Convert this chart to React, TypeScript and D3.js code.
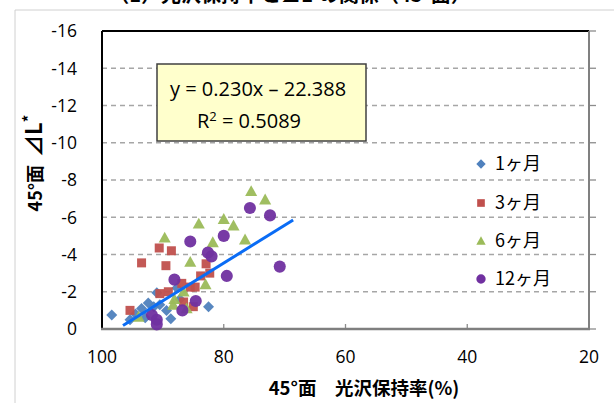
import React from "react";
import * as d3 from "d3";

const xTicks = [100, 80, 60, 40, 20];
const yTicks = [0, -2, -4, -6, -8, -10, -12, -14, -16];

const seriesNames = ["1ヶ月", "3ヶ月", "6ヶ月", "12ヶ月"];
const seriesColors = ["#4F81BD", "#C0504D", "#9BBB59", "#7030A0"];
const seriesShapes = ["diamond", "square", "triangle", "circle"];

const m1x = [98.4, 95.4, 94.5, 93.5, 92.9, 92.4, 91.5, 91.0, 90.5, 89.4, 88.7, 87.7, 87.2, 82.5];
const m1y = [-0.75, -0.5, -0.8, -1.1, -0.6, -1.4, -1.2, -1.95, -1.3, -1.0, -0.55, -2.2, -1.6, -1.2];

const m3x = [95.4, 93.5, 90.6, 89.5, 88.6, 90.5, 89.1, 86.9, 86.6, 85.5, 84.7, 85.0, 83.8, 82.9, 82.3];
const m3y = [-1.0, -3.55, -4.35, -3.4, -4.2, -1.9, -2.0, -2.45, -1.45, -2.25, -2.25, -1.2, -2.85, -3.5, -3.0];

const m6x = [75.5, 73.2, 80.0, 78.4, 84.1, 89.7, 81.8, 76.5, 85.5, 83.0, 86.6, 88.1, 88.3, 86.1, 94.0];
const m6y = [-7.4, -6.95, -5.9, -5.55, -5.65, -4.9, -4.65, -4.8, -3.6, -2.4, -2.0, -1.6, -1.3, -1.1, -0.65];

const m12x = [75.7, 72.4, 80.0, 85.5, 82.6, 82.0, 70.8, 79.5, 88.1, 84.6, 86.8, 91.8, 91.0, 91.0];
const m12y = [-6.5, -6.1, -5.0, -4.7, -4.1, -3.9, -3.35, -2.85, -2.65, -1.5, -1.0, -0.75, -0.5, -0.25];

const trendX = [96.55, 68.6];
const trendY = [-0.19, -5.85];

const equationText = "y = 0.230x – 22.388";
const r2Value = "0.5089";
const titleText = "（1）光沢保持率と⊿L*の関係（45°面）";
const xTitle = "45°面\u3000光沢保持率(%)";

const seriesX = [m1x, m3x, m6x, m12x];
const seriesY = [m1y, m3y, m6y, m12y];

const FONT = "'Open Sans', 'Noto Sans CJK JP', sans-serif";
const CJK = "'Noto Sans CJK JP', 'Open Sans', sans-serif";

function markerPath(shape: string, cx: number, cy: number, s: number): string {
  if (shape === "diamond") {
    const r = s * 0.55;
    return `M${cx},${cy - r}L${cx + r},${cy}L${cx},${cy + r}L${cx - r},${cy}Z`;
  }
  if (shape === "square") {
    const h = s * 0.45;
    return `M${cx - h},${cy - h}H${cx + h}V${cy + h}H${cx - h}Z`;
  }
  if (shape === "triangle") {
    const h = s * 0.55;
    return `M${cx},${cy - h * 1.0}L${cx + h},${cy + h * 0.8}L${cx - h},${cy + h * 0.8}Z`;
  }
  const p = d3.path();
  p.arc(cx, cy, s * 0.55, 0, Math.PI * 2);
  return p.toString();
}

export default function App() {
  const L = 102, R = 589, T = 31, B = 329;
  const xs = d3.scaleLinear().domain([100, 20]).range([L, R]);
  const ys = d3.scaleLinear().domain([0, -16]).range([B, T]);
  const line = d3.line<number>().x((d) => xs(trendX[d])).y((d) => ys(trendY[d]));

  const legendY = [164, 203, 241, 279];

  return (
    <div style={{ position: "fixed", left: 0, top: 0 }}>
      <svg width={614} height={403} style={{ display: "block", background: "#fff" }}>
        {/* chart area border */}
        <line x1={15} y1={10} x2={614} y2={10} stroke="#d0d0d0" strokeWidth={1} />
        <line x1={15} y1={10} x2={15} y2={403} stroke="#d0d0d0" strokeWidth={1} />
        {/* title (cut off at top, as in the reference) */}
        <text x={290} y={2} textAnchor="middle" fontFamily={CJK} fontWeight="bold" fontSize={20} fill="#000">
          {titleText}
        </text>

        {/* gridlines */}
        {yTicks.filter((v) => v !== 0 && v !== -16).map((v) => (
          <line key={v} x1={L} x2={R} y1={ys(v)} y2={ys(v)} stroke="#a6a6a6" strokeWidth={1.3} strokeDasharray="5,4" />
        ))}

        {/* right axis ticks */}
        {yTicks.map((v) => (
          <line key={"rt" + v} x1={R} x2={R + 7} y1={ys(v)} y2={ys(v)} stroke="#8c8c8c" strokeWidth={1.3} />
        ))}
        {/* bottom axis ticks inside */}
        {xTicks.map((v) => (
          <line key={"bt" + v} x1={xs(v)} x2={xs(v)} y1={B} y2={B - 5} stroke="#8c8c8c" strokeWidth={1.3} />
        ))}

        {/* plot area border */}
        <line x1={L} x2={R} y1={T} y2={T} stroke="#000" strokeWidth={2} />
        <line x1={L} x2={L} y1={T} y2={B} stroke="#000" strokeWidth={2} />
        <line x1={R} x2={R} y1={T} y2={B} stroke="#808080" strokeWidth={2} />
        <line x1={L - 1} x2={R + 1} y1={B} y2={B} stroke="#7f7f7f" strokeWidth={2.5} />

        {/* y tick labels */}
        {yTicks.map((v) => (
          <text key={"yl" + v} x={77} y={ys(v)} dy="0.36em" textAnchor="end" fontFamily={FONT} fontSize={17.5} fill="#000">
            {v}
          </text>
        ))}
        {/* x tick labels */}
        {xTicks.map((v) => (
          <text key={"xl" + v} x={xs(v)} y={363} textAnchor="middle" fontFamily={FONT} fontSize={17.5} fill="#000">
            {v}
          </text>
        ))}

        {/* axis titles */}
        <text x={364} y={395} textAnchor="middle" fontFamily={CJK} fontWeight="bold" fontSize={18.5} fill="#000">
          {xTitle}
        </text>
        <text transform="translate(42,163) rotate(-90)" textAnchor="middle" fontFamily={CJK} fontWeight="bold" fill="#000">
          <tspan fontSize={18}>45°面</tspan>
          <tspan fontSize={22} dx={8}>⊿L</tspan>
          <tspan fontSize={15} dy={-8}>*</tspan>
        </text>

        {/* markers */}
        {seriesX.map((xsArr, si) =>
          xsArr.map((xv, i) => (
            <path
              key={si + "-" + i}
              d={markerPath(seriesShapes[si], xs(xv), ys(seriesY[si][i]), si >= 2 ? 11 : 10)}
              fill={seriesColors[si]}
              fillOpacity={0.95}
            />
          ))
        )}

        {/* trendline */}
        <path d={line([0, 1]) || ""} stroke="#0A6CF5" strokeWidth={3} fill="none" />

        {/* equation box */}
        <rect x={157} y={64} width={209} height={77} fill="#FFFFCC" stroke="#404040" strokeWidth={1.5} />
        <text x={170} y={96} fontFamily={FONT} fontSize={20} fill="#000">
          {equationText}
        </text>
        <text x={197} y={128} fontFamily={FONT} fontSize={20} fill="#000">
          R<tspan fontSize={13} dy={-7}>2</tspan>
          <tspan dy={7}> = {r2Value}</tspan>
        </text>

        {/* legend */}
        {seriesNames.map((n, i) => (
          <g key={n}>
            <path d={markerPath(seriesShapes[i], 481, legendY[i], 8.5)} fill={seriesColors[i]} />
            <text x={495} y={legendY[i]} dy="0.36em" fontFamily={CJK} fontSize={18} fill="#000">
              {n}
            </text>
          </g>
        ))}
      </svg>
    </div>
  );
}
